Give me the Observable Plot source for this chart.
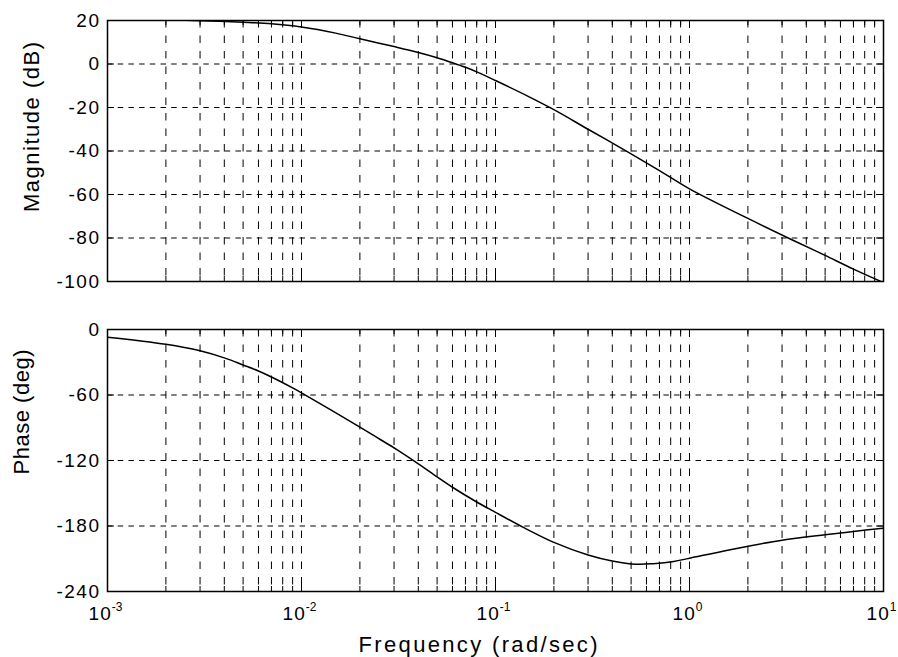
<!DOCTYPE html>
<html><head><meta charset="utf-8">
<script src="https://cdn.jsdelivr.net/npm/d3@7"></script>
<script src="https://cdn.jsdelivr.net/npm/@observablehq/plot@0.6"></script>
<style>body{margin:0;background:#fff} svg{display:block}</style>
</head><body><div id="chart"></div>
<script>
// ---- data ----
const magFreq = [0.001, 0.002, 0.003, 0.005, 0.007, 0.01, 0.015, 0.02, 0.03, 0.04, 0.05, 0.06, 0.07, 0.08, 0.1, 0.15, 0.2, 0.3, 0.5, 0.7, 1, 2, 3.5, 5, 7, 10];
const magDb   = [20.6, 20.3, 19.9, 19.2, 18.5, 17.0, 14.2, 11.6, 8.0, 5.3, 2.9, 0.6, -1.5, -3.6, -7.6, -15.2, -21, -30, -41.3, -49, -57.4, -71, -81.5, -88, -94.3, -100.5];
const phaseFreq = [0.001, 0.002, 0.003, 0.004, 0.005, 0.006, 0.007, 0.009, 0.01, 0.02, 0.0256, 0.031, 0.04, 0.05, 0.06, 0.08, 0.1, 0.14, 0.2, 0.3, 0.4, 0.53, 0.65, 0.83, 1, 2, 3, 5, 7, 10];
const phaseDeg  = [-7, -13.5, -19.5, -26, -32.5, -38, -43.5, -53.5, -58, -89.5, -101, -110, -123, -135, -144.5, -158, -167.5, -181.5, -195, -206.5, -212, -215, -214.5, -212.5, -209.5, -198.5, -193, -188, -185, -182];

const decadeTicks = [1e-3, 1e-2, 1e-1, 1e0, 1e1];
const minorMultipliers = [2, 3, 4, 5, 6, 7, 8, 9];
const magTicks = [20, 0, -20, -40, -60, -80, -100];
const phaseTicks = [0, -60, -120, -180, -240];
const titles = {mag: "Magnitude (dB)", phase: "Phase (deg)", freq: "Frequency (rad/sec)"};

// ---- derived tick sets ----
const minorTicks = decadeTicks.slice(0, -1).flatMap(d => minorMultipliers.map(m => m * d));
const gridXVals = minorTicks.concat(decadeTicks.slice(1, -1));

const W = 898, ML = 107, MR = 15;
const innerW = W - ML - MR;
const font = "'Liberation Sans', Arial, Helvetica, sans-serif";

function panel({height, marginTop, marginBottom, domain, yTicks, xs, ys, showX}) {
  const innerH = height - marginTop - marginBottom;
  const data = xs.map((x, i) => ({x, y: ys[i]}));
  const yGrid = yTicks.filter(t => t !== domain[0] && t !== domain[1]);
  return Plot.plot({
    width: W, height, marginLeft: ML, marginRight: MR, marginTop, marginBottom,
    style: {fontFamily: font, fontSize: "19px", letterSpacing: "1.5px", color: "black", background: "white", overflow: "visible"},
    x: showX
      ? {type: "log", domain: [1e-3, 10], ticks: decadeTicks, tickSize: 0, tickPadding: 15,
         tickFormat: d => "10^" + Math.round(Math.log10(d)), label: null}
      : {type: "log", domain: [1e-3, 10], axis: null},
    y: {domain, ticks: yTicks, tickSize: 0, tickPadding: 7, tickFormat: d => String(d), label: null},
    marks: [
      Plot.ruleX(gridXVals, {stroke: "black", strokeWidth: 1, strokeDasharray: "7.5,8"}),
      Plot.ruleY(yGrid, {stroke: "black", strokeWidth: 1, strokeDasharray: "5.5,5.2"}),
      Plot.ruleX(minorTicks, {stroke: "black", strokeWidth: 1, insetTop: innerH - 5}),
      Plot.ruleX(minorTicks, {stroke: "black", strokeWidth: 1, insetBottom: innerH - 5}),
      Plot.ruleX(decadeTicks, {stroke: "black", strokeWidth: 1, insetTop: innerH - 8}),
      Plot.ruleX(decadeTicks, {stroke: "black", strokeWidth: 1, insetBottom: innerH - 8}),
      Plot.ruleY(yTicks, {stroke: "black", strokeWidth: 1, insetRight: innerW - 7}),
      Plot.ruleY(yTicks, {stroke: "black", strokeWidth: 1, insetLeft: innerW - 7}),
      Plot.line(data, {x: "x", y: "y", stroke: "black", strokeWidth: 1.5, curve: "catmull-rom", clip: true}),
      Plot.frame({stroke: "black", strokeWidth: 1.5})
    ]
  });
}

const topPanel = panel({height: 300, marginTop: 20, marginBottom: 19, domain: [-100, 20], yTicks: magTicks, xs: magFreq, ys: magDb, showX: false});
const bottomPanel = panel({height: 357, marginTop: 29, marginBottom: 66, domain: [-240, 0], yTicks: phaseTicks, xs: phaseFreq, ys: phaseDeg, showX: true});

// superscript exponents on x tick labels
d3.select(bottomPanel).selectAll("text").each(function() {
  const t = this.textContent;
  if (t.startsWith("10^")) {
    const exp = t.slice(3);
    const sel = d3.select(this);
    sel.text(null).attr("letter-spacing", "1px").attr("dx", -2);
    sel.append("tspan").text("10");
    sel.append("tspan").attr("dy", -9).attr("font-size", "12px").attr("letter-spacing", 0).text(exp);
  }
});

function addTitle(svg, text, x, y, rotate, len) {
  d3.select(svg).append("text")
    .attr("transform", `translate(${x},${y})` + (rotate ? " rotate(-90)" : ""))
    .attr("text-anchor", "middle")
    .attr("font-family", font)
    .attr("font-size", 22)
    .attr("letter-spacing", 0)
    .attr("textLength", len)
    .attr("lengthAdjust", "spacing")
    .attr("fill", "black")
    .text(text);
}
addTitle(topPanel, titles.mag, 39, 127, true, 170);
addTitle(bottomPanel, titles.phase, 29, 112, true, 125);
addTitle(bottomPanel, titles.freq, 478, 352, false, 239);

document.getElementById("chart").append(topPanel, bottomPanel);
</script>
</body></html>
